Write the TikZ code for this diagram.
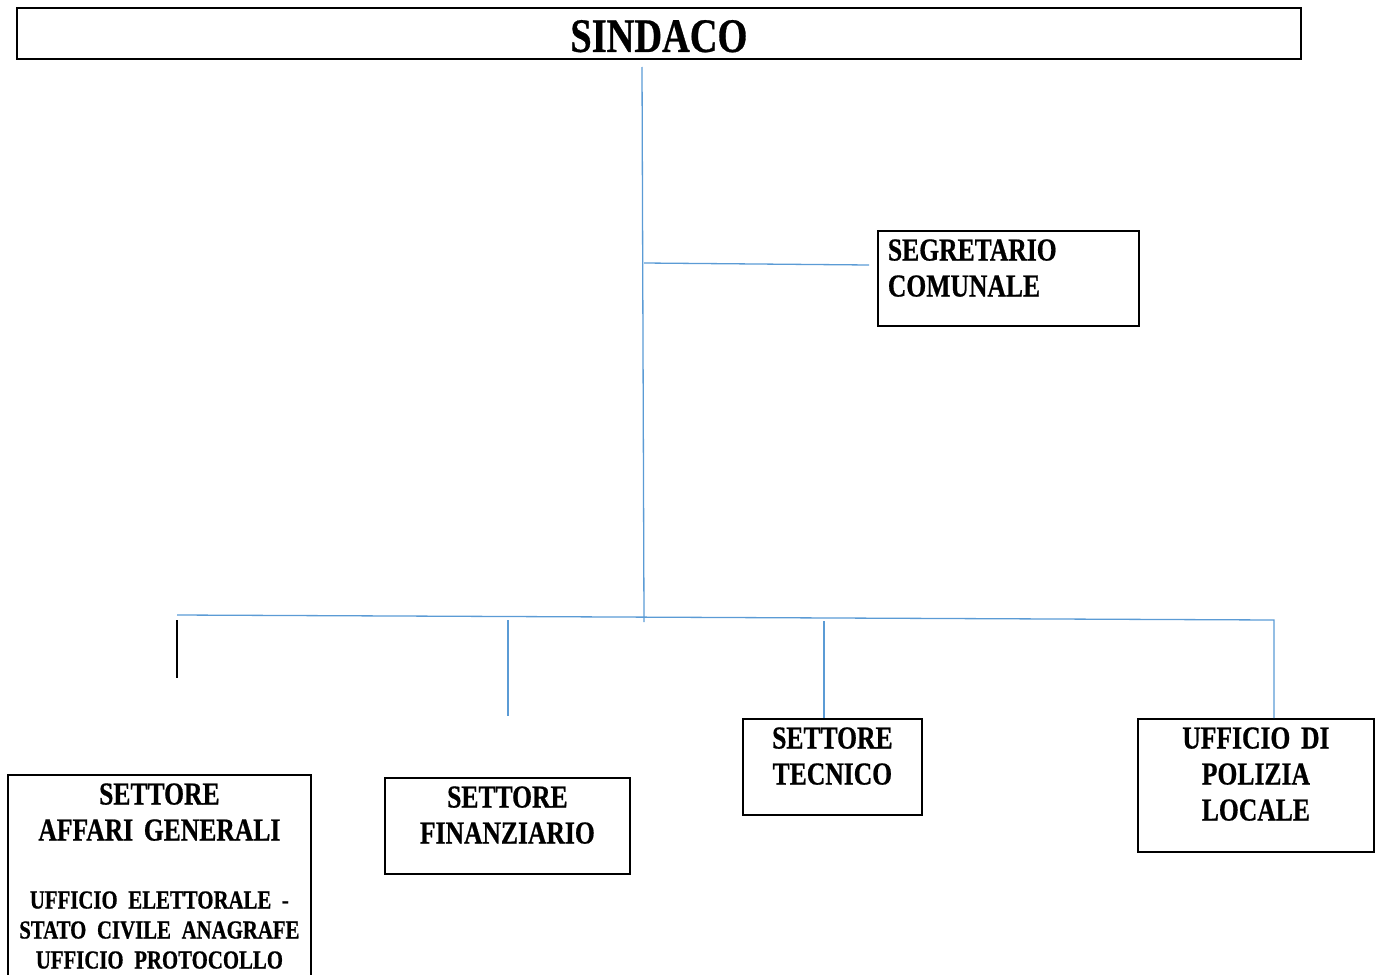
\documentclass[tikz,border=0pt]{standalone}
\usepackage{fontspec}
\setmainfont{Liberation Serif}[FakeStretch=0.8, WordSpace=0.7, FakeBold=0.6]
\usetikzlibrary{positioning}
\definecolor{linkblue}{HTML}{5B9BD5}

\begin{document}
\begin{tikzpicture}[x=1pt, y=-1pt,
    font=\bfseries\fontsize{32}{36}\selectfont,
    unit/.style={draw, line width=1.8pt, anchor=north west, inner sep=0pt,
                 align=center, text height=29.6pt},
    link/.style={draw=linkblue, line width=1.3pt},
    stub/.style={draw=black, line width=1.6pt}]

    \useasboundingbox (0,0) rectangle (1380,974);

    \node[unit, text width=1284pt, text height=44pt, text depth=7pt,
          font=\bfseries\fontsize{48}{52}\selectfont] (sindaco) at (16,7) {SINDACO};
    \node[unit, align=left, text width=241pt, inner xsep=10pt, text depth=65.4pt]
          (segr) at (877,230) {SEGRETARIO\\COMUNALE};
    \node[unit, text width=303pt, text depth=190pt] (affari) at (7,774)
          {SETTORE\\AFFARI GENERALI\par\vspace{38pt}
           {\fontsize{26}{30}\selectfont UFFICIO ELETTORALE -\\STATO CIVILE ANAGRAFE\\UFFICIO PROTOCOLLO\par}};
    \node[unit, text width=245pt, text depth=66.4pt] (fin) at (384,777) {SETTORE\\FINANZIARIO};
    \node[unit, text width=179pt, text depth=66.4pt] (tec) at (742,718) {SETTORE\\TECNICO};
    \node[unit, text width=236pt, text depth=103.4pt] (poliz) at (1137,718) {UFFICIO DI\\POLIZIA\\LOCALE};

    \coordinate (trunktop) at (642,67);
    \coordinate (trunkbot) at (644,622);
    \coordinate (segrjoin) at (644,263);
    \coordinate (segrend)  at (869,265);
    \coordinate (busL)     at (177,615);
    \coordinate (busR)     at (1274,620);
    \coordinate (blackT)   at (177,620);
    \coordinate (blackB)   at (177,678);
    \coordinate (finT)     at (508,620);
    \coordinate (finB)     at (508,716);
    \coordinate (tecT)     at (824,621);

    \draw[link] (trunktop) -- (trunkbot);
    \draw[link] (segrjoin) -- (segrend);
    \draw[link] (busL) -- (busR) -- (busR |- poliz.north);
    \draw[stub] (blackT) -- (blackB);
    \draw[link] (finT) -- (finB);
    \draw[link] (tecT) -- (tecT |- tec.north);
  \end{tikzpicture}
\end{document}
